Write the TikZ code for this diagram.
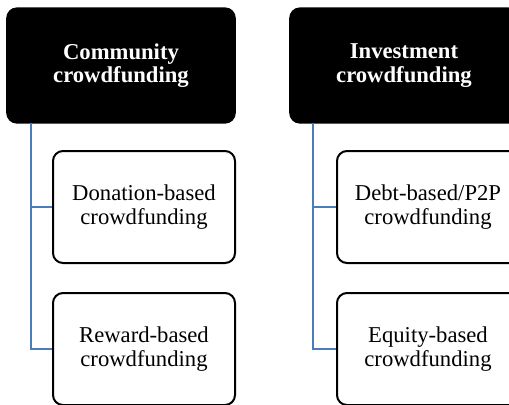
\documentclass[tikz,border=0pt]{standalone}
\usepackage{fontspec}
\setmainfont{Liberation Serif}
\usepackage{tikz}
\usepackage{xcolor}
\definecolor{linkblue}{HTML}{4A7EBB}
\tikzset{
  head/.style={draw=black, fill=black, text=white, rounded corners=7.5pt, line width=1.2pt,
    minimum width=171pt, minimum height=86pt, align=center,
    font=\fontsize{17}{17.5}\selectfont\bfseries},
  kind/.style={draw=black, fill=white, rounded corners=7.5pt, line width=1.5pt,
    minimum width=136.5pt, minimum height=84pt, align=center,
    font=\fontsize{17}{18}\selectfont},
  link/.style={draw=linkblue, line width=1pt}
}

\begin{document}
\begin{tikzpicture}[x=0.75pt,y=-0.75pt]
        \useasboundingbox (0,0) rectangle (509,404);
        \clip (0,0) rectangle (509,404);
        % Community
        \node[head] (comm) at (121,65.5) {Community\\crowdfunding};
        \node[kind] (don) at (144,207) {Donation-based\\crowdfunding};
        \node[kind] (rew) at (144,349) {Reward-based\\crowdfunding};
        \coordinate (ctrunk) at (31,123);
        \draw[link] (ctrunk) |- (don.west);
        \draw[link] (ctrunk) |- (rew.west);
        % Investment
        \node[head] (inv) at (404,65.5) {Investment\\crowdfunding};
        \node[kind] (debt) at (428,207) {Debt-based/P2P\\crowdfunding};
        \node[kind] (equ) at (428,349) {Equity-based\\crowdfunding};
        \coordinate (itrunk) at (313,123);
        \draw[link] (itrunk) |- (debt.west);
        \draw[link] (itrunk) |- (equ.west);
    \end{tikzpicture}
\end{document}
